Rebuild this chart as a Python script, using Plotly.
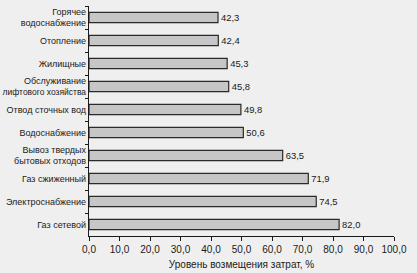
import plotly.graph_objects as go

categories = [
    "Горячее<br>водоснабжение",
    "Отопление",
    "Жилищные",
    "Обслуживание<br><span style=\"font-size:8.5px\">лифтового хозяйства</span>",
    "Отвод сточных вод",
    "Водоснабжение",
    "Вывоз твердых<br>бытовых отходов",
    "Газ сжиженный",
    "Электроснабжение",
    "Газ сетевой",
]
values = [42.3, 42.4, 45.3, 45.8, 49.8, 50.6, 63.5, 71.9, 74.5, 82.0]
x_ticks = [0, 10, 20, 30, 40, 50, 60, 70, 80, 90, 100]

bg = "#efefef"
ink = "#1a1a1a"

fig = go.Figure(go.Bar(
    x=values, y=categories, orientation="h",
    marker=dict(color="#c6c6c6", line=dict(color="#2a2a2a", width=1.2)),
    text=values, texttemplate="%{x:.1f}", textposition="outside",
    textfont=dict(size=10, color=ink), cliponaxis=False,
))

fig.update_layout(
    width=417, height=273,
    margin=dict(l=89, r=23, t=6, b=37),
    paper_bgcolor=bg, plot_bgcolor=bg,
    font=dict(family="Liberation Sans, Arial, sans-serif", size=10, color=ink),
    separators=", ",
    bargap=0.55,
    showlegend=False,
    xaxis=dict(
        range=[0, 100], tickvals=x_ticks, tickformat=".1f",
        showgrid=False, zeroline=False, automargin=False,
        showline=True, linecolor=ink, linewidth=1.2,
        ticks="outside", ticklen=4, tickcolor=ink,
        title=dict(text="Уровень возмещения затрат, %", standoff=6, font=dict(size=10)),
    ),
    yaxis=dict(
        autorange="reversed", showgrid=False, zeroline=False, automargin=False,
        showline=True, linecolor=ink, linewidth=1.2,
        ticks="outside", ticklen=3, tickcolor=ink, tickson="boundaries",
        ticklabelstandoff=0, tickfont=dict(size=9),
    ),
)

fig.write_html("out.html")
